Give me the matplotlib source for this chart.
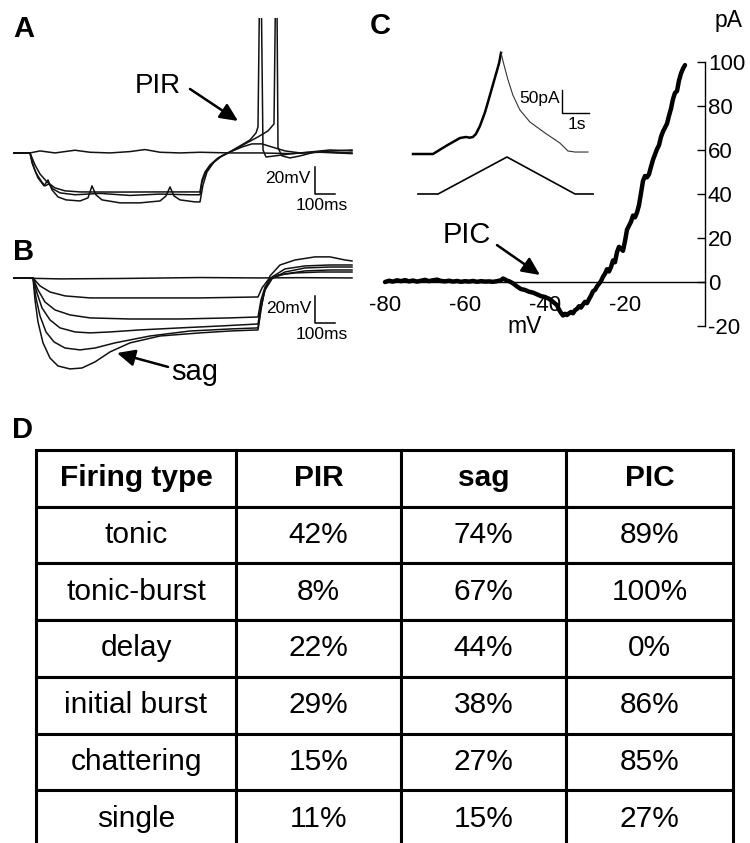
import matplotlib
matplotlib.use("Agg")
import matplotlib.pyplot as plt

plt.rcParams["font.family"] = ["Liberation Sans", "DejaVu Sans"]
plt.rcParams["axes.unicode_minus"] = False

W, H = 750, 843

# ---- panel A: PIR traces (time ms, membrane potential mV re. rest)
a0_t = [0, 85, 135, 210, 310, 385, 485, 585, 660, 735, 835, 935, 1085, 1235, 1385, 1535, 1695]
a0_v = [0, 0, 1.5, 0, 2, 0.5, 0, 1, 2.5, 0.5, 0, 0.5, 0, 0, -0.5, 0.5, -0.5]

a1_t = [0, 85, 110, 135, 170, 210, 260, 335, 535, 735, 935, 945, 960, 985, 1025, 1075,
        1135, 1185, 1215, 1225, 1232, 1242, 1250, 1265, 1310, 1385, 1485, 1585, 1695]
a1_v = [0, 0, -8.9, -15.6, -21.5, -25.9, -28.1, -28.9, -29, -28.9, -28.9, -20, -14.1, -8.9, -3.7, 0,
        5.2, 9.6, 14.8, 19.3, 110, 110, 2.2, -3, -2.2, -0.7, 0.7, 2.2, 1.5]

a2_t = [0, 85, 105, 125, 155, 175, 195, 225, 265, 335, 375, 395, 415, 445, 535, 635, 735, 765,
        785, 805, 835, 910, 935, 950, 970, 1005, 1045, 1095, 1160, 1225, 1275, 1305, 1312, 1320,
        1325, 1345, 1385, 1435, 1510, 1610, 1695]
a2_v = [0, 0, -11.1, -18.5, -24.4, -20, -27.4, -32.6, -34.8, -35.6, -33.3, -24.4, -31.1, -34.8,
        -37, -37, -35.6, -31.9, -25.2, -31.9, -34.8, -36.3, -36.3, -23.7, -14.1, -6.7, -2.2, 1.5,
        6.7, 11.9, 16.3, 21.5, 110, 110, 3.7, -2.2, -3.7, -2.2, 0.7, 1.5, 2.2]

a3_t = [0, 85, 95, 115, 140, 160, 180, 200, 235, 310, 435, 585, 735, 885, 935, 945, 965, 995,
        1035, 1085, 1145, 1195, 1245, 1295, 1360, 1435, 1535, 1695]
a3_v = [0, 0, -7.4, -14.8, -20.7, -24.4, -23, -26.7, -29.6, -31, -30, -31.5, -30.5, -31, -31,
        -21.5, -14.1, -8.1, -3, 0.7, 4.4, 6.7, 6.7, 4.4, 1.5, 0, 0.7, 0]

# ---- panel B: sag traces
b0_t = [0, 235, 535, 935, 1225, 1435, 1695]
b0_v = [0, -0.7, -0.4, 0.3, 0, 0.2, 0]

b1_t = [0, 100, 135, 185, 260, 385, 685, 935, 1225, 1245, 1275, 1325, 1410, 1535, 1695]
b1_v = [0, 0, -5.9, -10.4, -13.3, -14.8, -14.8, -14.8, -14.1, -7.4, -1.5, 2.2, 3.7, 4.4, 4.4]

b2_t = [0, 100, 125, 160, 210, 285, 385, 585, 835, 1085, 1225, 1240, 1260, 1295, 1360, 1460, 1585, 1695]
b2_v = [0, 0, -8.9, -17.8, -23.7, -27.4, -29.6, -30.4, -30.4, -29.6, -28.9, -16.3, -6.7, 0, 3,
        5.2, 5.9, 5.9]

b3_t = [0, 100, 120, 145, 185, 235, 310, 385, 485, 635, 835, 1035, 1225, 1240, 1260, 1295,
        1360, 1460, 1585, 1695]
b3_v = [0, 0, -11.1, -22.2, -31.1, -37, -40, -40.7, -40, -38.5, -37, -35.6, -34.1, -20, -8.9,
        -0.7, 4.4, 7.4, 8.1, 8.1]

b4_t = [0, 100, 115, 135, 165, 205, 260, 335, 410, 510, 685, 885, 1085, 1225, 1240, 1260, 1295,
        1360, 1460, 1585, 1695]
b4_v = [0, 0, -14.8, -28.1, -40, -47.4, -51.9, -53.3, -51.9, -48.1, -43, -39.3, -37.8, -37,
        -22.2, -8.9, 0.7, 6.7, 8.9, 9.6, 9.6]

b5_t = [0, 100, 110, 125, 150, 185, 225, 285, 345, 410, 485, 585, 735, 935, 1085, 1225, 1240,
        1255, 1285, 1335, 1410, 1510, 1585, 1660, 1695]
b5_v = [0, 0, -16.3, -32.6, -48.1, -59.3, -65.2, -67.4, -66.7, -62.2, -54.8, -48.1, -43, -40.7,
        -39.3, -38.5, -23.7, -10.4, 1.5, 9.6, 13.3, 15.6, 15.6, 13.3, 12.6]

# ---- panel C: I-V relation (mV, pA)
iv_mv = [-80, -79, -78, -77, -76, -75, -74, -73, -72, -71, -70, -69, -68, -67, -66, -65, -64,
         -63, -62, -61, -60, -59, -58, -57, -56, -55, -54, -53, -52, -51,
         -50.5, -50, -49.5, -49,
         -48, -47, -46, -45, -44, -43, -42, -41, -40, -39, -38, -37,
         -36.5, -36, -35.5, -35, -34.5, -34, -33.5, -33, -32.5, -32, -31.5, -31, -30.5, -30,
         -29.5, -29, -28.5, -28, -27.5, -27, -26.5, -26, -25.5, -25, -24.5, -24, -23.5, -23,
         -22.5, -22, -21.5, -21, -20.5, -20, -19.5, -19, -18.5, -18, -17.5, -17, -16.5, -16,
         -15.5, -15, -14.5, -14, -13.5, -13, -12.5, -12, -11.5, -11, -10.5, -10, -9.5, -9,
         -8.5, -8, -7.5, -7, -6.5, -6, -5.5, -5]
iv_pa = [0, 0.6, 0.2, 0.8, 0.4, 0.9, 0.3, 0.7, 0.2, 0.6, 1.0, 0.4, 0.8, 1.1, 0.5, 0.3, 0.6,
         0.2, 0.5, 0.1, 0.4, 0.2, 0.5, 0.1, 0.4, 0.2, 0.3, 0.1, 0.4, 0.8,
         1.6, 1.2, 0.6, 0.4,
         -0.6, -2.0, -3.2, -3.6, -4.4, -4.8, -5.6, -6.4, -6.8, -7.6, -9.0, -10.5,
         -12.5, -14.0, -15.2, -14.4, -15.0, -14.2, -13.6, -14.2, -12.8, -12.2, -11.0, -11.6,
         -10.2, -9.0, -9.6, -7.8, -6.2, -4.2, -3.6, -2.0, -0.8, 0.4, 2.4, 3.8, 5.8, 4.8, 6.8,
         9.8, 9.0, 13.6, 16.0, 15.2, 14.2, 18.6, 23.8, 25.6, 27.4, 30.2, 29.4, 31.6, 35.0,
         40.4, 46.0, 48.2, 47.6, 49.0, 52.4, 55.6, 58.0, 60.4, 62.2, 66.0, 68.4, 70.2, 72.0,
         75.6, 78.8, 83.2, 86.0, 86.8, 91.6, 94.8, 97.0, 98.6]

# inset: current response (s, pA) and voltage ramp command (s, mV)
ins_rise_t = [0, 0.74, 1.22, 1.74, 1.96, 2.1, 2.22, 2.33, 2.48, 2.67, 2.85, 3.04, 3.19, 3.26]
ins_rise_i = [0, 0, 17.4, 34.8, 37, 35.5, 37, 43.5, 60.9, 91.3, 128, 167, 198, 220]
ins_fall_t = [3.26, 3.37, 3.52, 3.70, 3.96, 4.33, 4.89, 5.44, 5.74, 6.0, 6.48]
ins_fall_i = [220, 193.5, 161, 128, 95.7, 69.6, 45.7, 23.9, 6.5, 4.3, 4.3]
ramp_t = [0.185, 0.93, 3.48, 6.0, 6.67]
ramp_v = [-80, -80, -5, -80, -80]

# ---- panel D: table
columns = ["Firing type", "PIR", "sag", "PIC"]
firing_types = ["tonic", "tonic-burst", "delay", "initial burst", "chattering", "single"]
pir_pct = [42, 8, 22, 29, 15, 11]
sag_pct = [74, 67, 44, 38, 27, 15]
pic_pct = [89, 100, 0, 86, 85, 27]


def px_box(x0, y0, x1, y1):
    # reference pixel box -> figure fraction
    return [x0 / W, 1 - y1 / H, (x1 - x0) / W, (y1 - y0) / H]


def arrow(ax, tail, head):
    ax.annotate("", xy=head, xytext=tail,
                arrowprops=dict(arrowstyle="-|>,head_length=0.6,head_width=0.28",
                                color="black", lw=1.8, mutation_scale=18,
                                shrinkA=0, shrinkB=0))


def scale_bar(ax, x, y, dx, dy, lw=1.1):
    ax.plot([x, x, x + dx], [y + dy, y, y], color="black", lw=lw, clip_on=False)


fig = plt.figure(figsize=(W / 100, H / 100), dpi=100)

# panel A
axA = fig.add_axes(px_box(13, 18, 353, 215))
for t, v in [(a0_t, a0_v), (a3_t, a3_v), (a1_t, a1_v), (a2_t, a2_v)]:
    axA.plot(t, v, color="#111111", lw=1.1)
axA.set_xlim(0, 1700)
axA.set_ylim(-46, 100)
axA.axis("off")
axA.text(725, 49.6, "PIR", fontsize=20, ha="center", va="center")
arrow(axA, (885, 47.4), (1125, 23.7))
scale_bar(axA, 1510, -30.4, 100, 20)
axA.text(1490, -18.9, "20mV", fontsize=12.5, ha="right", va="center")
axA.text(1545, -39.3, "100ms", fontsize=12.5, ha="center", va="center")

# panel B
axB = fig.add_axes(px_box(13, 250, 353, 385))
for t, v in [(b0_t, b0_v), (b1_t, b1_v), (b2_t, b2_v), (b3_t, b3_v), (b4_t, b4_v), (b5_t, b5_v)]:
    axB.plot(t, v, color="#111111", lw=1.1)
axB.set_xlim(0, 1700)
axB.set_ylim(-79.3, 20.7)
axB.axis("off")
axB.text(910, -69.6, "sag", fontsize=21, ha="center", va="center")
arrow(axB, (775, -65.9), (520, -55.6))
scale_bar(axB, 1510, -33.3, 100, 20)
axB.text(1492, -23, "20mV", fontsize=12.5, ha="right", va="center")
axB.text(1545, -42.2, "100ms", fontsize=12.5, ha="center", va="center")

# panel C
axC = fig.add_axes(px_box(375, 55, 705, 330))
axC.plot(iv_mv, iv_pa, color="black", lw=3.2, solid_capstyle="round")
axC.set_xlim(-82.5, 0)
axC.set_ylim(-21.8, 103.2)
for s in ["top", "left"]:
    axC.spines[s].set_visible(False)
axC.spines["right"].set_bounds(-20, 100)
axC.spines["bottom"].set_position(("data", 0))
axC.spines["bottom"].set_bounds(-80, 0)
axC.spines["right"].set_linewidth(1.0)
axC.spines["bottom"].set_linewidth(1.0)
axC.yaxis.tick_right()
axC.set_yticks([-20, 0, 20, 40, 60, 80, 100])
axC.set_xticks([-80, -60, -40, -20])
axC.tick_params(axis="y", direction="in", length=6, width=1.0, labelsize=16, pad=2)
axC.tick_params(axis="x", length=0, labelsize=16, pad=9)
axC.patch.set_alpha(0)
axC.text(6, 119, "pA", fontsize=16.5, ha="center", va="center", clip_on=False)
axC.text(-45, -20, "mV", fontsize=16.5, ha="center", va="center", clip_on=False)
axC.text(-59.5, 21.4, "PIC", fontsize=21, ha="center", va="center")
arrow(axC, (-52, 16.8), (-41.25, 3.2))

# inset current trace
axI = fig.add_axes(px_box(410, 45, 600, 165))
axI.plot(ins_rise_t, ins_rise_i, color="black", lw=1.8)
axI.plot(ins_fall_t, ins_fall_i, color="#333333", lw=0.8)
axI.set_xlim(-0.111, 6.926)
axI.set_ylim(-23.9, 237)
axI.axis("off")
scale_bar(axI, 5.52, 89, 1.0, 50, lw=1.0)
axI.text(5.44, 119.6, "50pA", fontsize=12.5, ha="right", va="center")
axI.text(6.07, 65.2, "1s", fontsize=12.5, ha="center", va="center")

# inset ramp command
axR = fig.add_axes(px_box(410, 150, 600, 200))
axR.plot(ramp_t, ramp_v, color="black", lw=1.2)
axR.set_xlim(-0.111, 6.926)
axR.set_ylim(-92.2, 9.2)
axR.axis("off")

# panel D table
axD = fig.add_axes(px_box(36, 450, 733, 847))
axD.axis("off")
cells = [[f, f"{a}%", f"{b}%", f"{c}%"] for f, a, b, c in zip(firing_types, pir_pct, sag_pct, pic_pct)]
tab = axD.table(cellText=cells, colLabels=columns, cellLoc="center", bbox=[0, 0, 1, 1],
                colWidths=[200 / 697, 165 / 697, 165 / 697, 167 / 697])
tab.auto_set_font_size(False)
tab.set_fontsize(21.5)
for (r, c), cell in tab.get_celld().items():
    cell.set_linewidth(2.2)
    cell.set_edgecolor("black")
    if r == 0:
        cell.get_text().set_fontweight("bold")

# panel letters
for lab, x, y in [("A", 24, 29), ("B", 24, 252), ("C", 380, 26), ("D", 22, 430)]:
    fig.text(x / W, 1 - y / H, lab, fontsize=21, fontweight="bold", ha="center", va="center")

fig.savefig("out.png", dpi=100)
